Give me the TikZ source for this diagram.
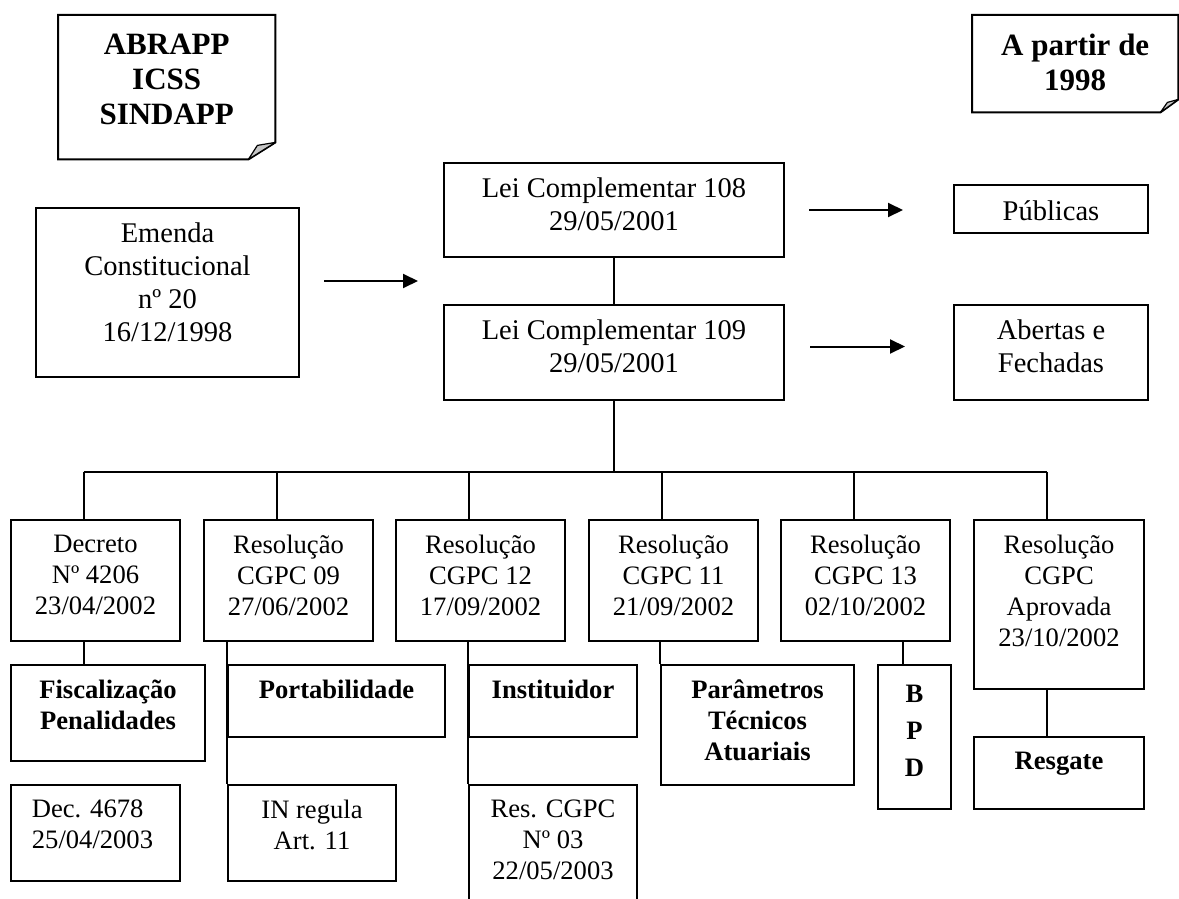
\documentclass[tikz,border=0pt]{standalone}
\usepackage{fontspec}
\setmainfont{Liberation Serif}
\usetikzlibrary{arrows.meta, calc}

\tikzset{
  % plain square box, drawn empty; its text hangs from the top in a label
  box/.style={draw, line width=2pt, inner sep=0pt, anchor=north west},
  % a note with a folded corner; the outline is drawn by hand below
  note/.style={inner sep=0pt, anchor=north west},
  flap/.style={fill=gray!45, draw, line width=1.2pt, line join=round},
  % texts
  upper/.style={anchor=north, align=center, inner sep=0pt, yshift=-16pt,
    font=\fontsize{28.5}{33}\selectfont},
  lower/.style={anchor=north, align=center, inner sep=0pt, yshift=-16pt,
    font=\fontsize{26.6}{31}\selectfont},
  strong/.style={lower, font=\fontsize{26.6}{31}\selectfont\bfseries},
  head/.style={anchor=north, align=center, inner sep=0pt, yshift=-19pt,
    font=\fontsize{31}{35}\selectfont\bfseries},
  % connectors
  link/.style={line width=2pt},
  flow/.style={-{Triangle[length=15pt,width=14pt]}, line width=2pt},
}

\begin{document}
\begin{tikzpicture}[x=1pt, y=-1pt]
\useasboundingbox (0,0) rectangle (1179,899);

% ============================== notes ==================================
\node[note, minimum width=217pt, minimum height=144pt,
      label={[head]above:{ABRAPP\\ICSS\\SINDAPP}}] (orgs) at (58,15) {};
\draw[link] (orgs.north west) -- (orgs.north east) -- ($(orgs.south east)+(0,-17)$)
  -- ($(orgs.south east)+(-27,0)$) -- (orgs.south west) -- cycle;
\filldraw[flap] ($(orgs.south east)+(-27,0)$) -- ($(orgs.south east)+(-18,-14)$)
  -- ($(orgs.south east)+(0,-17)$) -- cycle;

\node[note, minimum width=206pt, minimum height=97pt,
      label={[head]above:{A partir de\\1998}}] (since) at (972,15) {};
\draw[link] (since.north west) -- (since.north east) -- ($(since.south east)+(0,-13)$)
  -- ($(since.south east)+(-18,0)$) -- (since.south west) -- cycle;
\filldraw[flap] ($(since.south east)+(-18,0)$) -- ($(since.south east)+(-11,-10)$)
  -- ($(since.south east)+(0,-13)$) -- cycle;

% ============================ upper part ===============================
\node[box, minimum width=263pt, minimum height=169pt,
      label={[upper]above:{Emenda\\Constitucional\\nº 20\\16/12/1998}}] (emenda) at (35,207) {};
\node[box, minimum width=340pt, minimum height=94pt,
      label={[upper]above:{Lei Complementar 108\\29/05/2001}}] (lc108) at (443,162) {};
\node[box, minimum width=340pt, minimum height=95pt,
      label={[upper]above:{Lei Complementar 109\\29/05/2001}}] (lc109) at (443,304) {};
\node[box, minimum width=194pt, minimum height=48pt,
      label={[upper]above:{Públicas}}] (pub) at (953,184) {};
\node[box, minimum width=194pt, minimum height=95pt,
      label={[upper]above:{Abertas e\\Fechadas}}] (abf) at (953,304) {};

\coordinate (gap) at ($(lc108.south west)!0.5!(lc109.north west)$);
\draw[flow, shorten <=24pt, shorten >=25pt] (emenda.east |- gap) -- (gap);
\draw[flow, shorten <=24pt, shorten >=50pt] (lc108.east) -- (pub.west |- lc108.east);
\draw[flow, shorten <=25pt, shorten >=48pt] ([yshift=6pt]lc109.east) -- ([yshift=6pt]lc109.east -| abf.west);
\draw[link] (lc108) -- (lc109);

% ============================ resolutions ==============================
\node[box, minimum width=169pt, minimum height=121pt,
      label={[lower]above:{Decreto\\Nº 4206\\23/04/2002}}] (dec) at (10,519) {};
\node[box, minimum width=169pt, minimum height=121pt,
      label={[lower]above:{Resolução\\CGPC 09\\27/06/2002}}] (r09) at (203,519) {};
\node[box, minimum width=169pt, minimum height=121pt,
      label={[lower]above:{Resolução\\CGPC 12\\17/09/2002}}] (r12) at (395,519) {};
\node[box, minimum width=169pt, minimum height=121pt,
      label={[lower]above:{Resolução\\CGPC 11\\21/09/2002}}] (r11) at (588,519) {};
\node[box, minimum width=169pt, minimum height=121pt,
      label={[lower]above:{Resolução\\CGPC 13\\02/10/2002}}] (r13) at (780,519) {};
\node[box, minimum width=170pt, minimum height=169pt,
      label={[lower]above:{Resolução\\CGPC\\Aprovada\\23/10/2002}}] (rap) at (973,519) {};

\coordinate (bus) at (0,472);
\draw[link] (lc109.south) -- (lc109.south |- bus);
\draw[link] ([xshift=-12pt]dec.north |- bus) -- ([xshift=-12pt]rap.north |- bus);
\foreach \n in {dec, r09, r12, r11, r13, rap}
  \draw[link] ([xshift=-12pt]\n.north) -- ([xshift=-12pt]\n.north |- bus);

% ============================= subjects ================================
\node[box, minimum width=194pt, minimum height=96pt,
      label={[strong]above:{Fiscalização\\Penalidades}}] (fis) at (10,664) {};
\node[box, minimum width=217pt, minimum height=72pt,
      label={[strong]above:{Portabilidade}}] (port) at (227,664) {};
\node[box, minimum width=168pt, minimum height=72pt,
      label={[strong]above:{Instituidor}}] (inst) at (468,664) {};
\node[box, minimum width=193pt, minimum height=120pt,
      label={[strong]above:{Parâmetros\\Técnicos\\Atuariais}}] (par) at (660,664) {};
\node[box, minimum width=73pt, minimum height=144pt,
      label={[strong, font=\fontsize{26.6}{37}\selectfont\bfseries, yshift=-5pt]above:{B\\P\\D}}] (bpd) at (877,664) {};
\node[box, minimum width=170pt, minimum height=72pt,
      label={[strong]above:{Resgate}}] (resg) at (973,736) {};

% later acts
\node[box, minimum width=169pt, minimum height=96pt,
      label={[lower, align=left, xshift=-3pt]above:{Dec. 4678\\25/04/2003}}] (d4678) at (10,784) {};
\node[box, minimum width=168pt, minimum height=96pt,
      label={[lower]above:{IN regula\\Art. 11}}] (in11) at (227,784) {};
\node[box, minimum width=168pt, minimum height=130pt,
      label={[lower]above:{Res. CGPC\\Nº 03\\22/05/2003}}] (res03) at (468,784) {};

\draw[link] ([xshift=-12pt]dec.south) -- ([xshift=-12pt]dec.south |- fis.north);
\draw[link] (port.north west |- r09.south) -- (in11.north west);
\draw[link] (inst.north west |- r12.south) -- (res03.north west);
\draw[link] (par.north west |- r11.south) -- (par.north west);
\draw[link] ([xshift=-12pt]bpd.north |- r13.south) -- ([xshift=-12pt]bpd.north);
\draw[link] ([xshift=-12pt]rap.south) -- ([xshift=-12pt]resg.north);

\end{tikzpicture}
\end{document}
